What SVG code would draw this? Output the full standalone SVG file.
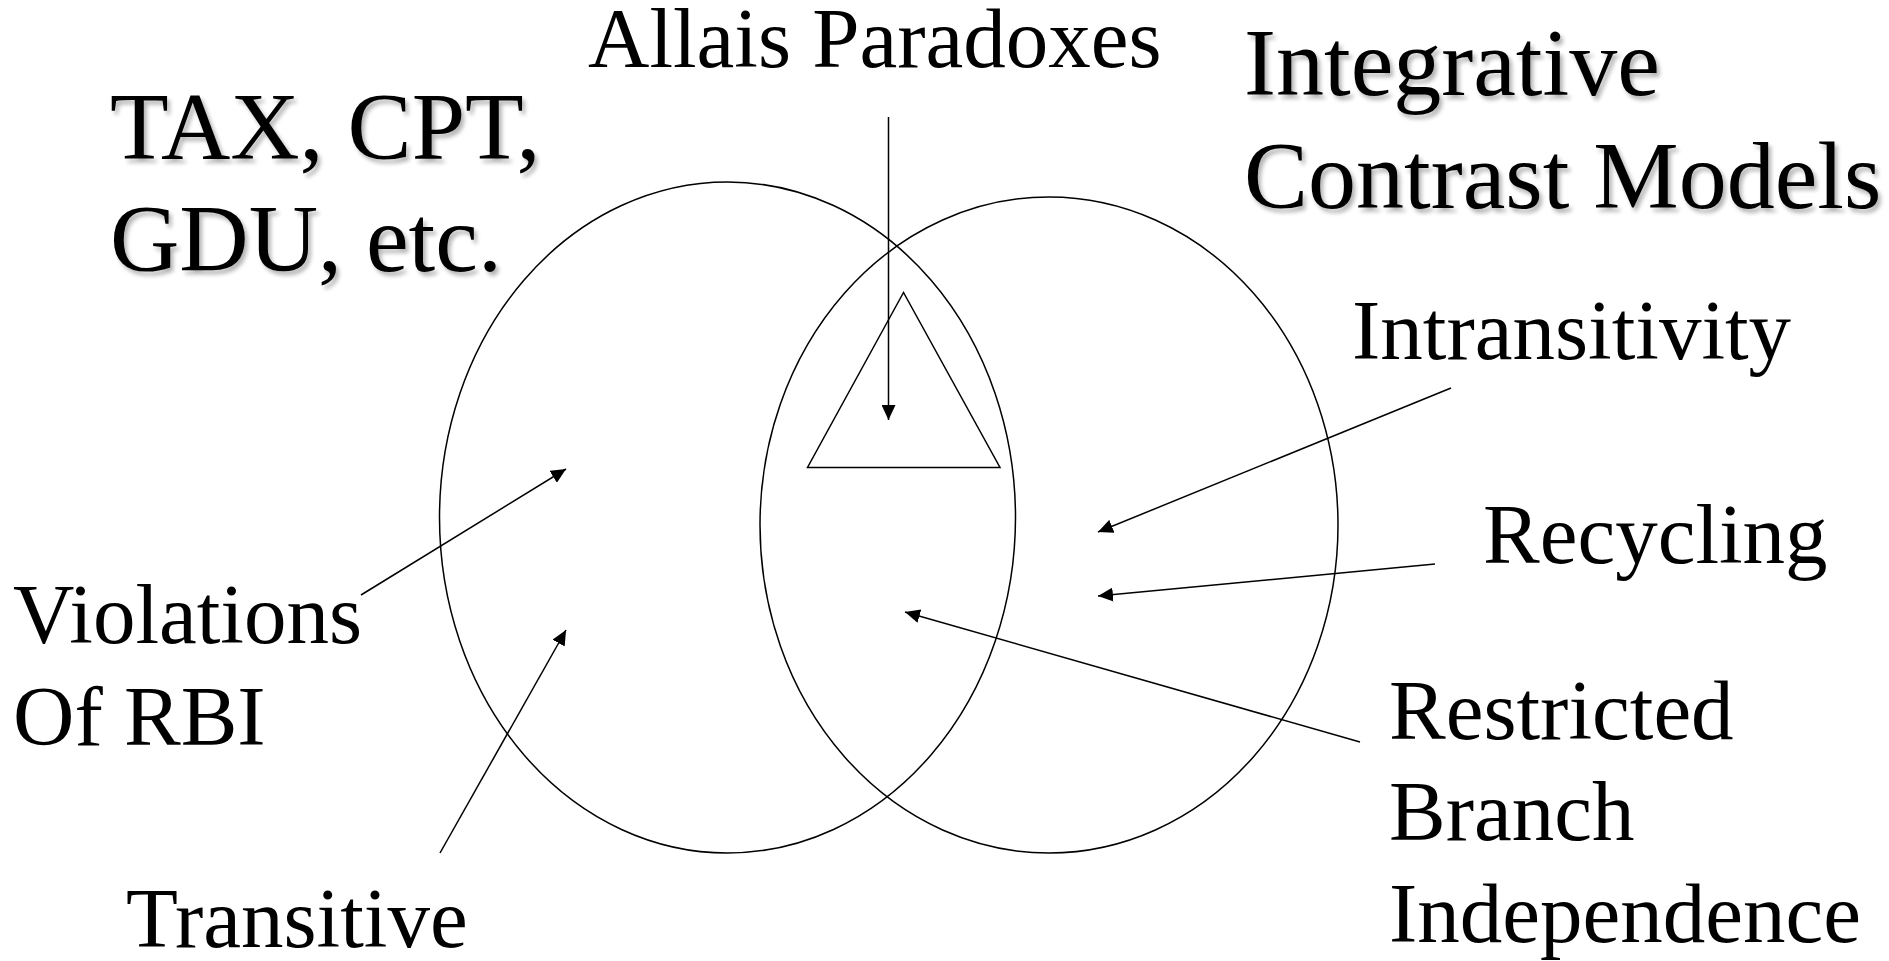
<svg xmlns="http://www.w3.org/2000/svg" width="1889" height="961" viewBox="0 0 1889 961">
<style>
.shape{fill:none;stroke:#000;stroke-width:1.5}
.conn{fill:none;stroke:#000;stroke-width:1.5;marker-end:url(#ah)}
</style>
<defs>
<marker id="ah" markerUnits="userSpaceOnUse" markerWidth="16" markerHeight="14" refX="15" refY="7" orient="auto">
<path d="M0,0 L15,7 L0,14 z" fill="#000"/>
</marker>
<filter id="sh" x="-5%" y="-10%" width="115%" height="130%">
<feGaussianBlur in="SourceAlpha" stdDeviation="2"/>
<feOffset dx="3" dy="4" result="o"/>
<feComponentTransfer in="o" result="s"><feFuncA type="linear" slope="0.3"/></feComponentTransfer>
<feMerge><feMergeNode in="s"/><feMergeNode in="SourceGraphic"/></feMerge>
</filter>
</defs>
<rect width="1889" height="961" fill="#fff"/>
<g id="left-set"><ellipse class="shape" cx="727.5" cy="517.5" rx="288" ry="335.5"/></g>
<g id="right-set"><ellipse class="shape" cx="1049" cy="525" rx="289" ry="328"/></g>
<g id="allais-region"><polygon class="shape" points="903.5,292.5 807.5,467.5 1000,467.5"/></g>
<g id="connectors">
<line class="conn" x1="888.5" y1="117" x2="888.5" y2="420"/>
<line class="conn" x1="361" y1="595" x2="566" y2="469"/>
<line class="conn" x1="440" y1="853" x2="566" y2="630"/>
<line class="conn" x1="1451" y1="388" x2="1098" y2="532"/>
<line class="conn" x1="1435" y1="564" x2="1098" y2="596"/>
<line class="conn" x1="1360" y1="742" x2="905" y2="612"/>
</g>
<g id="label-allais"><text font-family="Liberation Serif, serif" font-size="85" x="588" y="67">Allais Paradoxes</text></g>
<g id="label-tax" filter="url(#sh)"><text font-family="Liberation Serif, serif" font-size="96" x="110" y="159">TAX, CPT,</text><text font-family="Liberation Serif, serif" font-size="96" x="110" y="271">GDU, etc.</text></g>
<g id="label-integrative" filter="url(#sh)"><text font-family="Liberation Serif, serif" font-size="96" x="1244" y="95">Integrative</text><text font-family="Liberation Serif, serif" font-size="96" x="1244" y="208">Contrast Models</text></g>
<g id="label-intransitivity"><text font-family="Liberation Serif, serif" font-size="85" x="1352" y="359">Intransitivity</text></g>
<g id="label-recycling"><text font-family="Liberation Serif, serif" font-size="85" x="1483" y="563">Recycling</text></g>
<g id="label-rbi"><text font-family="Liberation Serif, serif" font-size="85" x="1389" y="739">Restricted</text><text font-family="Liberation Serif, serif" font-size="85" x="1389" y="840">Branch</text><text font-family="Liberation Serif, serif" font-size="85" x="1389" y="942">Independence</text></g>
<g id="label-violations"><text font-family="Liberation Serif, serif" font-size="85" x="13" y="643">Violations</text><text font-family="Liberation Serif, serif" font-size="85" x="13" y="745">Of RBI</text></g>
<g id="label-transitive"><text font-family="Liberation Serif, serif" font-size="85" x="126" y="947">Transitive</text></g>
</svg>
